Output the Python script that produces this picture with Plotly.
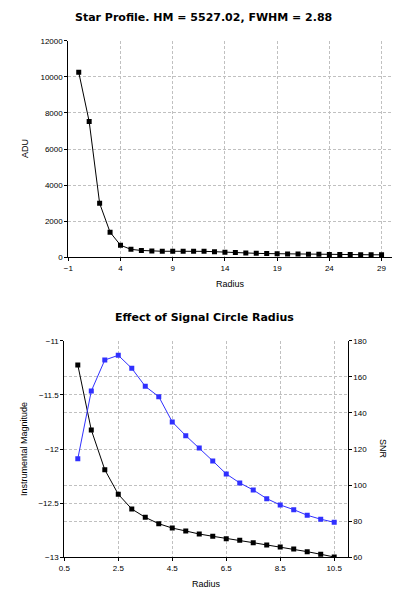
import plotly.graph_objects as go

W, H = 394, 592

# ---- data: star profile ----
profile_radius = list(range(0, 30))
profile_adu = [10250, 7520, 2990, 1390, 670, 440, 380, 350, 335, 335,
               340, 335, 330, 310, 280, 260, 240, 220, 205, 195,
               185, 180, 170, 165, 160, 155, 150, 145, 140, 140]

# ---- data: effect of signal circle radius ----
circle_radius = [1.0, 1.5, 2.0, 2.5, 3.0, 3.5, 4.0, 4.5, 5.0, 5.5,
                 6.0, 6.5, 7.0, 7.5, 8.0, 8.5, 9.0, 9.5, 10.0, 10.5]
inst_mag = [-11.224, -11.824, -12.191, -12.418, -12.554, -12.631, -12.690, -12.730,
            -12.757, -12.785, -12.806, -12.828, -12.843, -12.865, -12.886, -12.905,
            -12.923, -12.948, -12.972, -12.997]
snr = [114.6, 152.1, 169.3, 171.9, 164.7, 154.7, 149.0, 135.0, 127.4, 120.6,
       113.4, 106.2, 101.2, 97.3, 92.5, 89.0, 86.4, 83.3, 81.1, 79.4]

title_top = "Star Profile. HM = 5527.02, FWHM = 2.88"
title_bottom = "Effect of Signal Circle Radius"


def px(x):
    return x / W


def py(y):
    return 1 - y / H


tickfont = dict(family="Liberation Sans, Arial, sans-serif", size=8, color="#000")
titlefont = dict(family="Liberation Sans, Arial, sans-serif", size=9, color="#000")
headfont = dict(family="DejaVu Sans, Verdana, sans-serif", size=11, color="#000")
grid = dict(showgrid=True, gridcolor="#c0c0c0", griddash="3px,2px", gridwidth=1)
ax_f = dict(showline=True, linecolor="#000", linewidth=1, ticks="outside",
            ticklen=3, tickcolor="#000", tickwidth=1, tickfont=tickfont,
            zeroline=False, automargin=False)

fig = go.Figure()

fig.add_trace(go.Scatter(
    x=profile_radius, y=profile_adu, mode="lines+markers",
    line=dict(color="#000", width=1),
    marker=dict(symbol="square", size=5, color="#000"),
    xaxis="x", yaxis="y", showlegend=False))

fig.add_trace(go.Scatter(
    x=circle_radius, y=inst_mag, mode="lines+markers",
    line=dict(color="#000", width=1),
    marker=dict(symbol="square", size=5, color="#000"),
    xaxis="x2", yaxis="y2", showlegend=False))

fig.add_trace(go.Scatter(
    x=circle_radius, y=snr, mode="lines+markers",
    line=dict(color="#3030ff", width=1),
    marker=dict(symbol="square", size=5, color="#3030ff"),
    xaxis="x2", yaxis="y3", showlegend=False))

fig.update_layout(
    width=W, height=H,
    margin=dict(l=0, r=0, t=0, b=0),
    paper_bgcolor="#fff", plot_bgcolor="#fff",
    xaxis=dict(domain=[px(68.3), px(392)], range=[-1, 30], tick0=-1, dtick=5,
               anchor="y", tickformat="d", **ax_f, **grid),
    yaxis=dict(domain=[py(257.3), py(40.7)], range=[0, 12000], dtick=2000,
               anchor="x", tickformat="d", **ax_f, **grid),
    xaxis2=dict(domain=[px(64.3), px(347.7)], range=[0.5, 11], tick0=0.5, dtick=2,
                anchor="y2", tickformat=".1f", **ax_f, **grid),
    yaxis2=dict(domain=[py(557.3), py(340.7)], range=[-13, -11], dtick=0.5,
                anchor="x2", **ax_f, **grid),
    yaxis3=dict(range=[60, 180], dtick=20, overlaying="y2", side="right",
                anchor="x2", tickformat="d", **ax_f, **grid),
)

ann = [
    dict(text="<b>%s</b>" % title_top, x=px(203), y=py(17), font=headfont),
    dict(text="<b>%s</b>" % title_bottom, x=px(204), y=py(317), font=headfont),
    dict(text="Radius", x=px(230), y=py(284), font=titlefont),
    dict(text="Radius", x=px(206), y=py(584), font=titlefont),
    dict(text="ADU", x=px(25), y=py(149), font=titlefont, textangle=-90),
    dict(text="Instrumental Magnitude", x=px(24), y=py(449), font=titlefont, textangle=-90),
    dict(text="SNR", x=px(383), y=py(449), font=titlefont, textangle=90),
]
for a in ann:
    fig.add_annotation(xref="paper", yref="paper", showarrow=False,
                       xanchor="center", yanchor="middle", **a)

fig.write_html("out.html",
               config={"displayModeBar": False},
               post_script="document.body.style.margin='0';document.body.style.padding='0';")
